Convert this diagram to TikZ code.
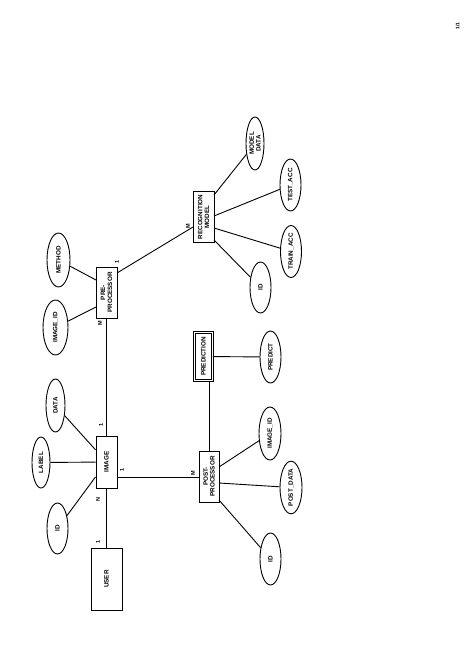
\documentclass[tikz,border=0pt]{standalone}
\usepackage{fontspec}
\setmainfont{Liberation Sans}
\usetikzlibrary{shapes.geometric,calc}
\begin{document}
\begin{tikzpicture}[x=1pt,y=-1pt,
 every node/.style={font=\fontsize{6.3}{6.8}\selectfont\bfseries, rotate=90, align=center, inner sep=0pt},
 ent/.style={draw, line width=0.9pt, minimum width=51pt, minimum height=21pt},
 attr/.style={draw, ellipse, line width=0.9pt, minimum width=52pt, minimum height=21pt},
 lbl/.style={font=\fontsize{5.5}{6}\selectfont\bfseries},
 conn/.style={line width=0.9pt}]
\useasboundingbox (0,0) rectangle (474,669);
% entities
\node[ent] (rec) at (203.5,217) {RECOGNITION\\MODEL};
\node[ent] (pre) at (106.5,292.5) {PRE-\\PROCESSOR};
\node[ent, minimum width=52pt] (img) at (106.5,462) {IMAGE};
\node[ent, minimum width=62pt, minimum height=31pt] (user) at (106.5,579) {USER};
\node[ent, minimum height=20pt] (post) at (209,476.5) {POST-\\PROCESSOR};
\node[ent, double, double distance=1.5pt, minimum width=48pt, minimum height=18pt] (pred) at (203.5,356.5) {PREDICTION};
% attributes
\node[attr, minimum width=53pt, minimum height=18pt] (md) at (255,143.5) {MODEL\\DATA};
\node[attr] (testacc) at (290.5,185) {TEST\_ACC};
\node[attr] (trainacc) at (291,251.5) {TRAIN\_ACC};
\node[attr, minimum width=51pt] (recid) at (260.5,287.5) {ID};
\node[attr, minimum width=54pt, minimum height=23pt] (method) at (58.5,260) {METHOD};
\node[attr, minimum width=55pt, minimum height=25pt] (preimgid) at (55.5,327.5) {IMAGE\_ID};
\node[attr, minimum width=53pt, minimum height=19pt] (data) at (55.5,405.5) {DATA};
\node[attr, minimum width=51pt, minimum height=18pt] (label) at (41,462.5) {LABEL};
\node[attr, minimum width=51pt] (imgid) at (57.5,528.5) {ID};
\node[attr] (predict) at (270.5,357) {PREDICT};
\node[attr, minimum width=53pt, minimum height=22pt] (postimgid) at (270,433.5) {IMAGE\_ID};
\node[attr, minimum width=51pt, minimum height=22pt] (postdata) at (291,487.5) {POST\_DATA};
\node[attr] (postid) at (270.5,559) {ID};
% connectors
\draw[conn] ($(pre.center)+(10.5,-19.5)$) -- ($(rec.center)+(-10.5,10)$);
\draw[conn] ($(rec.center)+(10.5,-22)$) -- (md);
\draw[conn] ($(rec.center)+(10.5,-1)$) -- (testacc);
\draw[conn] ($(rec.center)+(10.5,11)$) -- (trainacc);
\draw[conn] ($(rec.center)+(10.5,23)$) -- (recid);
\draw[conn] ($(pre.center)+(-10.5,-12.5)$) -- (method);
\draw[conn] ($(pre.center)+(-10.5,14.5)$) -- (preimgid);
\draw[conn] (img) -- (pre);
\draw[conn] (img) -- (data);
\draw[conn] (img) -- (label);
\draw[conn] (img) -- (imgid);
\draw[conn] (img) -- (user);
\draw[conn] ($(img.center)+(10.5,15)$) -- ($(post.center)+(-10,0.5)$);
\draw[conn] ($(post.center)+(10,-9.5)$) -- (postimgid);
\draw[conn] ($(post.center)+(10,6.5)$) -- (postdata);
\draw[conn] ($(post.center)+(10,23.5)$) -- (postid);
\draw[conn] ($(pred.center)+(5.5,25.5)$) -- ($(post.center)+(0,-25.5)$);
\draw[conn] (pred) -- (predict);
% cardinality labels
\node[lbl] (l1) at (117,262) {1};
\node[lbl] (l2) at (100,323) {M};
\node[lbl] (l3) at (188,226) {M};
\node[lbl] (l4) at (101,425) {1};
\node[lbl] (l5) at (122,470) {1};
\node[lbl] (l6) at (98,500) {N};
\node[lbl] (l7) at (98,542) {1};
\node[lbl] (l8) at (193,473) {M};
\node[lbl, font=\fontsize{5}{5.5}\selectfont\bfseries] (pg) at (457.5,26) {1/1};
\end{tikzpicture}
\end{document}
